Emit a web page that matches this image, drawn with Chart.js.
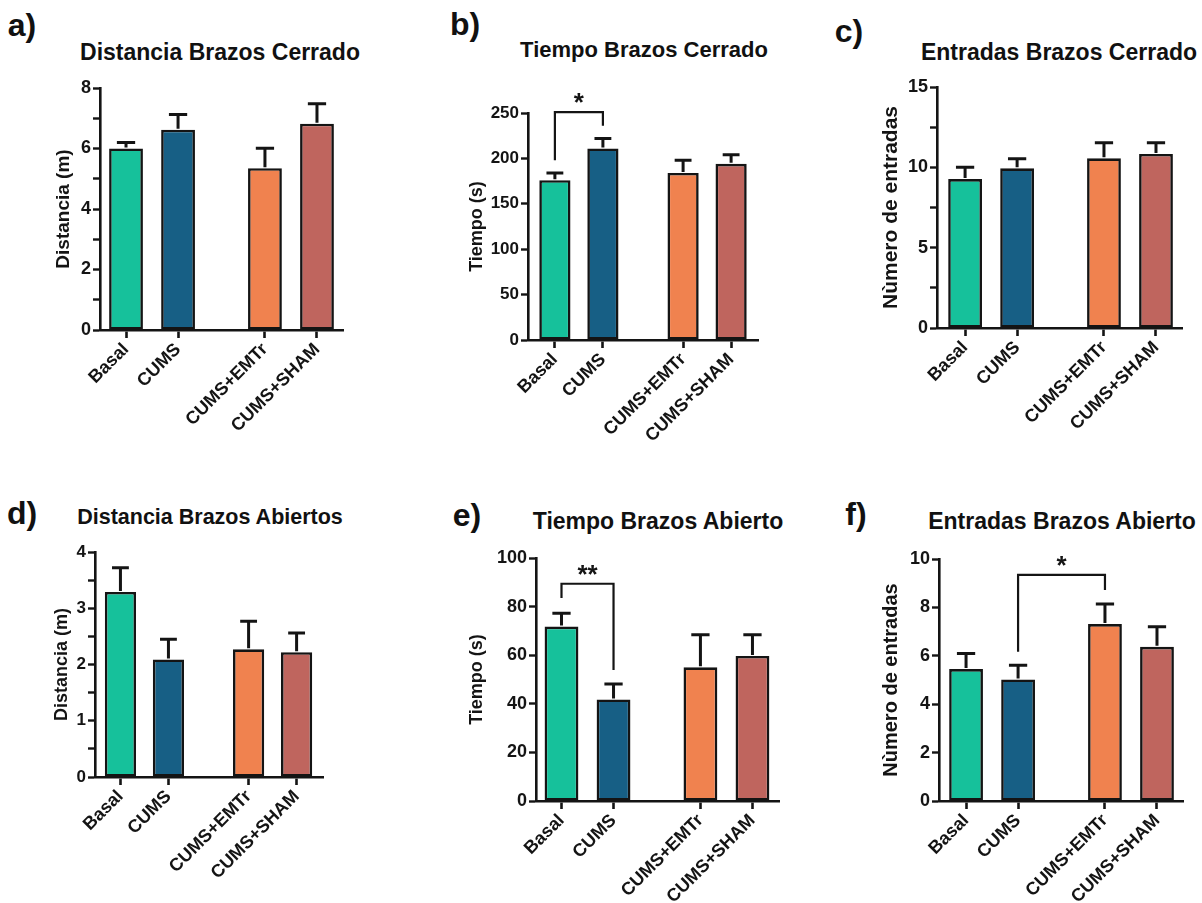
<!DOCTYPE html>
<html>
<head>
<meta charset="utf-8">
<title>Laberinto en cruz elevado</title>
<script src="https://cdn.jsdelivr.net/npm/chart.js"></script>
<style>
body {
	margin: 0;
	background: #fff;
	width: 1202px;
	height: 903px;
	position: relative;
	overflow: hidden;
	font-family: "Liberation Sans", Arial, sans-serif;
}
.panel { position: absolute; }
.tag, .title {
	position: absolute;
	font-weight: bold;
	color: #111;
	white-space: nowrap;
	line-height: 1;
	transform: translate(-50%, -50%);
}
.tag { font-size: 32px; }
</style>
</head>
<body>

<div class="tag" style="left:22px;top:25px">a)</div>
<div class="tag" style="left:465px;top:24px">b)</div>
<div class="tag" style="left:849px;top:31px">c)</div>
<div class="tag" style="left:22px;top:513px">d)</div>
<div class="tag" style="left:467px;top:515px">e)</div>
<div class="tag" style="left:856px;top:514px">f)</div>

<div class="title" style="left:220px;top:52px;font-size:23px">Distancia Brazos Cerrado</div>
<div class="title" style="left:644px;top:50px;font-size:22px">Tiempo Brazos Cerrado</div>
<div class="title" style="left:1059px;top:52px;font-size:23px">Entradas Brazos Cerrado</div>
<div class="title" style="left:210px;top:518px;font-size:21.5px">Distancia Brazos Abiertos</div>
<div class="title" style="left:658px;top:521px;font-size:23px">Tiempo Brazos Abierto</div>
<div class="title" style="left:1062px;top:521px;font-size:23px">Entradas Brazos Abierto</div>

<script>
const groups = ['Basal', 'CUMS', 'CUMS+EMTr', 'CUMS+SHAM'];
// groups sit on a linear axis so the treated pair is set apart
const slots = [0, 1, 2.67, 3.67];
const groupColors = ['#16c19b', '#175f85', '#f0824f', '#bf655e'];

// mean and SEM for each group
const distCerradoMean = [6.0, 6.62, 5.35, 6.82];
const distCerradoSem = [0.2, 0.5, 0.66, 0.66];
const tiempoCerradoMean = [176, 211, 184, 194];
const tiempoCerradoSem = [8, 11, 14, 10];
const entradasCerradoMean = [9.27, 9.94, 10.56, 10.83];
const entradasCerradoSem = [0.73, 0.59, 0.97, 0.7];
const distAbiertoMean = [3.29, 2.09, 2.27, 2.22];
const distAbiertoSem = [0.43, 0.36, 0.5, 0.34];
const tiempoAbiertoMean = [71.8, 41.8, 55.0, 59.7];
const tiempoAbiertoSem = [5.5, 6.3, 13.4, 8.7];
const entradasAbiertoMean = [5.45, 5.02, 7.31, 6.37];
const entradasAbiertoSem = [0.65, 0.59, 0.83, 0.83];

// significance brackets: groups compared, bracket height, leg ends, mark
const tiempoCerradoSig = [{ from: 0, to: 1, top: 251, ends: [198, 236], mark: '*' }];
const tiempoAbiertoSig = [{ from: 0, to: 1, top: 89.4, ends: [83.5, 53.9], mark: '**' }];
const entradasAbiertoSig = [{ from: 1, to: 2, top: 9.34, ends: [6.17, 8.72], mark: '*' }];

const ink = '#141414';
const FONT = '"Liberation Sans", Arial, sans-serif';

// box: left, top, width, height of each canvas; area: plot edges inside it
const panels = [
	{ box: [0, 0, 400, 460], area: [100, 88, 343, 330], xr: [-0.5, 4.17],
	  mean: distCerradoMean, sem: distCerradoSem, sig: [],
	  ylabel: 'Distancia (m)', yfont: 19, ypad: 52, ymax: 8, step: 1, major: 2, tfont: 18 },
	{ box: [400, 0, 400, 460], area: [128, 113, 358, 340], xr: [-0.56, 4.23],
	  mean: tiempoCerradoMean, sem: tiempoCerradoSem, sig: tiempoCerradoSig,
	  ylabel: 'Tiempo (s)', yfont: 18, ypad: 66, ymax: 250, step: 25, major: 50, tfont: 17 },
	{ box: [800, 0, 402, 460], area: [137, 87, 382, 328], xr: [-0.54, 4.17],
	  mean: entradasCerradoMean, sem: entradasCerradoSem, sig: [],
	  ylabel: 'Nùmero de entradas', yfont: 21, ypad: 79, ymax: 15, step: 2.5, major: 5, tfont: 18 },
	{ box: [0, 460, 400, 443], area: [95, 92, 323, 317], xr: [-0.53, 4.22],
	  mean: distAbiertoMean, sem: distAbiertoSem, sig: [],
	  ylabel: 'Distancia (m)', yfont: 18, ypad: 51, ymax: 4, step: 0.5, major: 1, tfont: 17 },
	{ box: [400, 460, 400, 443], area: [136, 98, 379, 341], xr: [-0.49, 4.18],
	  mean: tiempoAbiertoMean, sem: tiempoAbiertoSem, sig: tiempoAbiertoSig,
	  ylabel: 'Tiempo (s)', yfont: 18, ypad: 66, ymax: 100, step: 10, major: 20, tfont: 18 },
	{ box: [800, 460, 402, 443], area: [139, 99, 383, 341], xr: [-0.52, 4.17],
	  mean: entradasAbiertoMean, sem: entradasAbiertoSem, sig: entradasAbiertoSig,
	  ylabel: 'Nùmero de entradas', yfont: 20, ypad: 79, ymax: 10, step: 1, major: 2, tfont: 18 }
];

// error bars (upper only) and comparison brackets
const extras = {
	id: 'extras',
	afterDatasetsDraw(chart, args, opts) {
		const ctx = chart.ctx;
		const xs = chart.scales.x, ys = chart.scales.y;
		const bars = chart.getDatasetMeta(0).data;
		ctx.save();
		ctx.strokeStyle = ink;
		ctx.lineCap = 'butt';
		ctx.lineWidth = 3;
		opts.mean.forEach((m, i) => {
			const x = bars[i].x;
			const cap = bars[i].width * 0.27;
			const y0 = ys.getPixelForValue(m);
			const y1 = ys.getPixelForValue(m + opts.sem[i]);
			ctx.beginPath();
			ctx.moveTo(x, y0 - 1);
			ctx.lineTo(x, y1);
			ctx.moveTo(x - cap, y1);
			ctx.lineTo(x + cap, y1);
			ctx.stroke();
		});
		ctx.lineWidth = 2.2;
		ctx.fillStyle = ink;
		ctx.font = 'bold 26px ' + FONT;
		ctx.textAlign = 'center';
		ctx.textBaseline = 'alphabetic';
		opts.sig.forEach(s => {
			const xa = xs.getPixelForValue(slots[s.from]);
			const xb = xs.getPixelForValue(slots[s.to]);
			const yt = ys.getPixelForValue(s.top);
			ctx.beginPath();
			ctx.moveTo(xa, ys.getPixelForValue(s.ends[0]));
			ctx.lineTo(xa, yt);
			ctx.lineTo(xb, yt);
			ctx.lineTo(xb, ys.getPixelForValue(s.ends[1]));
			ctx.stroke();
			ctx.fillText(s.mark, (xa + xb) / 2, yt - 1);
		});
		ctx.restore();
	}
};

panels.forEach(p => {
	const [left, top, w, h] = p.box;
	const [al, at, ar, ab] = p.area;
	const div = document.createElement('div');
	div.className = 'panel';
	div.style.left = left + 'px';
	div.style.top = top + 'px';
	div.style.width = w + 'px';
	div.style.height = h + 'px';
	const canvas = document.createElement('canvas');
	canvas.width = w;
	canvas.height = h;
	div.appendChild(canvas);
	document.body.appendChild(div);

	new Chart(canvas, {
		type: 'bar',
		data: {
			datasets: [{
				data: p.mean.map((v, i) => ({ x: slots[i], y: v })),
				backgroundColor: groupColors,
				borderColor: ink,
				borderWidth: 2.6,
				borderSkipped: false,
				barPercentage: 0.65,
				categoryPercentage: 1
			}]
		},
		options: {
			responsive: false,
			animation: false,
			devicePixelRatio: 1,
			layout: { padding: { left: 0, top: at, right: w - ar, bottom: 0 } },
			plugins: {
				legend: { display: false },
				tooltip: { enabled: false },
				extras: { mean: p.mean, sem: p.sem, sig: p.sig }
			},
			scales: {
				x: {
					type: 'linear',
					min: p.xr[0],
					max: p.xr[1],
					offset: false,
					bounds: 'data',
					afterBuildTicks: s => { s.ticks = slots.map(v => ({ value: v })); },
					afterFit: s => { s.height = h - ab; },
					grid: { display: true, drawOnChartArea: false, offset: false, tickLength: 8, tickWidth: 2.6, tickColor: ink },
					border: { display: true, width: 2.6, color: ink },
					ticks: {
						autoSkip: false,
						maxRotation: 45,
						minRotation: 45,
						padding: 1,
						color: ink,
						font: { family: FONT, size: 18, weight: 'bold' },
						callback: (v, i) => groups[i]
					}
				},
				y: {
					min: 0,
					max: p.ymax,
					afterFit: s => { s.width = al; },
					grid: { display: true, drawOnChartArea: false, tickLength: 7, tickWidth: 2.4, tickColor: ink },
					border: { display: true, width: 2.6, color: ink },
					ticks: {
						stepSize: p.step,
						padding: 2,
						color: ink,
						font: { family: FONT, size: p.tfont, weight: 'bold' },
						callback: v => {
							const r = v / p.major;
							return Math.abs(r - Math.round(r)) < 1e-6 ? String(v) : '';
						}
					},
					title: {
						display: true,
						text: p.ylabel,
						color: ink,
						padding: { top: p.ypad, bottom: 0 },
						font: { family: FONT, size: p.yfont, weight: 'bold' }
					}
				}
			}
		},
		plugins: [extras]
	});
});
</script>
</body>
</html>
